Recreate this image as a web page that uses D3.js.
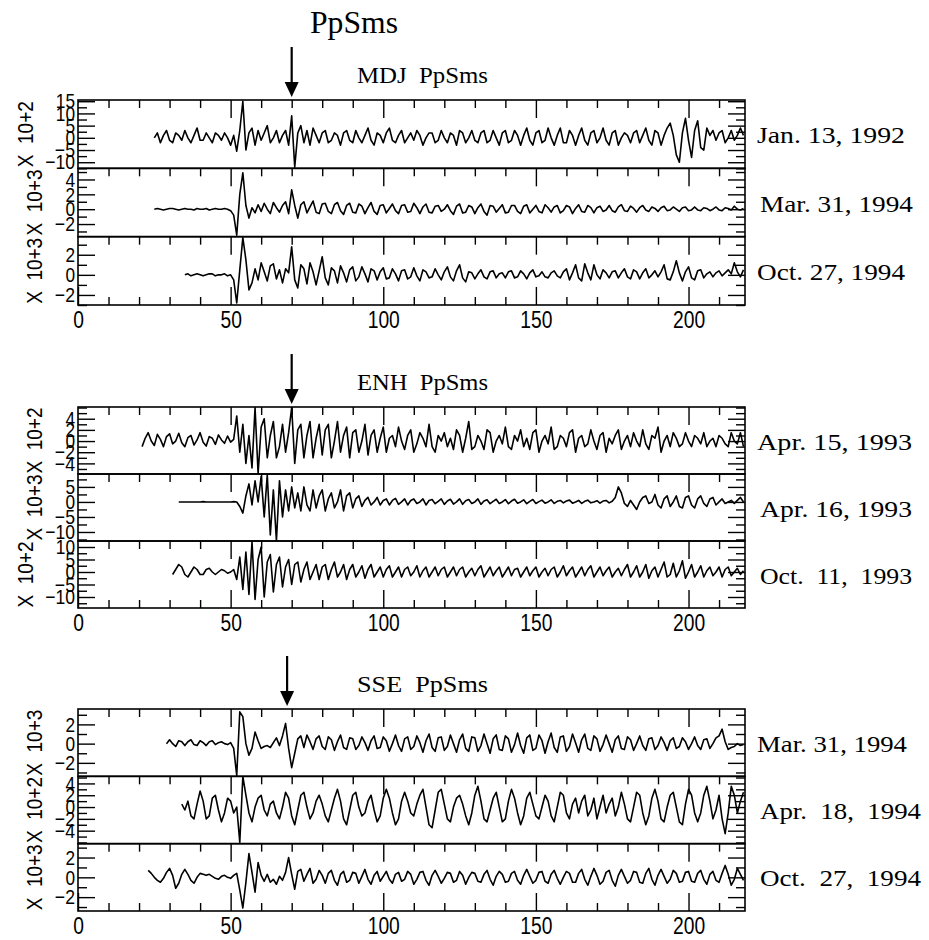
<!DOCTYPE html>
<html>
<head>
<meta charset="utf-8">
<script src="https://cdn.jsdelivr.net/npm/d3@7"></script>
<style>
    body { margin: 0; background: #fff; }
    .sans { font-family: 'Liberation Sans', Arial, sans-serif; }
    .serif { font-family: 'Liberation Serif', 'DejaVu Serif', serif; }
</style>
</head>
<body>
<div id="chart"></div>
<script>
// ---- data (1 sample per second) ----
const mainTitle = 'PpSms';
const stations = ['MDJ', 'ENH', 'SSE'];
const arrowTimes = [70, 70, 68.5];
const timeTicks = [0, 50, 100, 150, 200];
const timeDomain = [0, 218.5];

const mdjDates = ['Jan. 13, 1992', 'Mar. 31, 1994', 'Oct. 27, 1994'];
const enhDates = ['Apr. 15, 1993', 'Apr. 16, 1993', 'Oct.  11,  1993'];
const sseDates = ['Mar. 31, 1994', 'Apr.  18,  1994', 'Oct.  27,  1994'];

const mdjExponents = ['X  10+2', 'X  10+3', 'X  10+3'];
const enhExponents = ['X  10+2', 'X  10+3', 'X  10+2'];
const sseExponents = ['X  10+3', 'X  10+2', 'X  10+3'];

const mdjRanges = [[-12.5, 15.5], [-3.7, 5.5], [-3, 3.8]];
const enhRanges = [[-5.9, 6.1], [-13, 9.3], [-14.4, 12.4]];
const sseRanges = [[-3.4, 3.6], [-6.2, 5.2], [-3.4, 3.4]];

const mdjTicks = [[-10, -5, 0, 5, 10, 15], [-2, 0, 2, 4], [-2, 0, 2]];
const enhTicks = [[-4, -2, 0, 2, 4], [-10, -5, 0, 5], [-10, -5, 0, 5, 10]];
const sseTicks = [[-2, 0, 2], [-4, -2, 0, 2, 4], [-2, 0, 2]];

const mdjStarts = [25, 25, 35];
const enhStarts = [21, 33, 31];
const sseStarts = [29, 34, 23];

const mdjJan1992 = [
    0, 2, -2, 1, 3, -1, -2, 2, 1, -1, 3, 0, -2, 1, 4, -1, -1, 2, 0, -2, 2, 1, -1, 2, 0, -3, 1,
    -5.5, 3, 15, -5, 2, 4, -3, 3, -1,
    2, 5, -2, 0, 3, -2, 1, 3, -3,
    9, -12, 2, 5, -2, 3, -3, 4, 1, -2, 2,
    3, -2, -1, 2, 1, -3, 2, 3, -1, -2, 3, 0, -2, 1, 4, -1, -3, 2, 1, -2,
    2, 4, -1, -2, 1, 3, -2, 0, 2, -1, 3, 1, -3, 0, 2, 2, -2, -1, 3, 0,
    -2, 2, 1, -3, 3, 2, -2, 0, 3, -1, -2, 2, 3, -2, -1, 3, 0, -3, 2, 3,
    -2, -1, 3, 1, -3, 1, 4, -1, -3, 2, 3, -2, -1, 4, 0, -3, 1, 4, -2, -2,
    3, 1, -3, 1, 4, -1, -3, 2, 3, -2, 0, 4, -1, -3, 2, 3, -3, 0, 2, 1,
    -2, 2, 3, -2, 1, 4, -1, -3, 3, 2, -3, 1, 4,
    6, 1, -7, -10, 2, 8, -1, -8, 3, 7, -4, -5, 4, 1,
    3, -1, 2, 3, -2, 0, 3, -1, 1, 4, 1
];
const mdjMar1994 = [
    0, 0.1, 0, -0.1, 0, 0.1, 0.1, 0, -0.1, 0, 0.1, 0, 0, -0.1, 0.1, 0, 0, 0.1, -0.1, 0, 0.1, 0, 0, 0.1, 0, -0.2,
    -0.8, -3.5, 2, 4.9, 0.5, -1.2, 0.2, -0.5, 0.6, -0.3,
    0.8, 0, -0.6, 0.9, 0.2, -0.4, 0.5, 1, -0.6,
    2.6, 0.5, -1.2, 0.6, 1, -0.5, 0.3, 1.1, -0.4, -0.6, 0.7,
    0.8, -0.3, -0.6, 0.6, 0.9, -0.2, -0.7, 0.5, 0.8, -0.4, -0.5, 0.7, 0.4, -0.6, 0.2, 0.9, -0.3, -0.7, 0.5, 0.6,
    -0.5, 0.1, 0.7, -0.2, -0.6, 0.5, 0.6, -0.4, -0.3, 0.8, 0.2, -0.6, 0.3, 0.7, -0.4, -0.5, 0.4, 0.5, -0.3, 0,
    0.6, -0.2, -0.7, 0.4, 0.7, -0.5, -0.4, 0.5, 0.3, -0.6, 0.2, 0.7, -0.3, -0.8, 0.5, 0.4, -0.4, 0.1, 0.6, -0.5,
    -0.4, 0.5, 0.5, -0.3, -0.6, 0.4, 0.6, -0.5, 0, 0.5, -0.3, -0.5, 0.6, 0.2, -0.4, 0.3, 0.5, -0.5, -0.2, 0.5,
    0.3, -0.6, 0.1, 0.6, -0.3, -0.4, 0.5, 0.2, -0.5, 0.2, 0.4, -0.3, -0.1, 0.5, -0.2, -0.4, 0.3, 0.6, -0.2, -0.3,
    0.4, 0.1, -0.4, 0.2, 0.5, -0.1, -0.3, 0.3, 0.1, -0.3, 0.2, 0.4, -0.2, -0.1, 0.3, 0, -0.3, 0.2, 0.3, -0.2,
    -0.1, 0.3, -0.1, -0.2, 0.2, 0.1, -0.2, 0, 0.3, -0.1, -0.2, 0.2, 0.1, -0.1, 0.4, 0, -0.1, 0.1
];
const mdjOct1994 = [
    0, 0.1, -0.1, 0, 0.1, 0, -0.1, 0, 0.1, 0.1, -0.1, 0, 0, 0.1, -0.1, 0,
    -0.5, -2.8, 0.5, 3.7, 1.5, -1.5, -0.8, 0.6, -0.5, 1.2,
    0.3, -0.6, 0.9, 1.1, -0.4, 0.5, -0.8, 0.6, 0.2,
    2.8, -0.5, -1.3, 1, 0.6, -0.9, 1.2, 0.3, -1, 0.4, 1.8,
    -0.3, -1, 0.7, 0.4, -0.8, 0.9, 0.2, -0.7, 0.5, 0.8, -0.6, -0.2, 0.8, 0.1, -0.7, 0.6, 0.4, -0.5, 0.3, 0.7,
    -0.4, -0.3, 0.6, 0.1, -0.6, 0.4, 0.5, -0.4, -0.2, 0.7, -0.1, -0.6, 0.5, 0.3, -0.3, -0.2, 0.6, 0, -0.5, 0.3,
    0.8, -0.2, -0.6, 0.4, 1, -0.3, -0.7, 0.3, 0.2, -0.4, 0.1, 0.5, -0.2, -0.4, 0.3, 0.4, -0.3, 0.1, 0.2, -0.3,
    0.3, 0.4, -0.3, -0.2, 0.4, 0.1, -0.4, 0.2, 0.5, -0.2, -0.1, 0.3, -0.2, -0.3, 0.2, 0.4, -0.1, -0.3, 0.3, 0.6,
    -0.5, 0.2, 1, -0.3, -0.6, 1.1, 0.2, -0.5, 1, 0, -0.4, 0.5, 0.2, -0.3, 0.3, 0.4, -0.3, 0.2, 0.6, -0.2,
    -0.4, 0.5, 0.3, -0.4, 0.2, 0.6, -0.3, 0, 0.4, -0.2, 0.3, 1, -0.4, -0.5, 0.3, 1.4, 0.2, -0.6, 0.3, 0.8,
    -0.3, -0.5, 0.4, 0.5, -0.3, 0.1, 0.3, -0.2, 0.2, 0.4, -0.1, 0.2, 0.5, 0.1, 1.2, 0.3, -0.2, 0.5
];

const enhApr151993 = [
    -1, 0.5, 1.5, 0, -0.8, 1.2, 0.3, -1, 0.8, 1.3, -0.5, 0, 1.4, -0.3, -1, 0.6, 1, -0.7, 0.2, 1.5, -0.2, -0.9, 0.8, 0.5, -0.6, 1.1, 0.2, -0.4, 0.9, -0.2, 0.3,
    4.5, -2, 3, -4, 1, -4.8, 6, -5.8, 2.5, 4, -3, 1, 3.5, -3, -1, 3, -2, 1.5,
    6, -4, 2, 3, -3, 1, 3.5, -3, 0.5, 3, -2.5,
    2, 3, -3, 0, 3.5, -2, 1, 2.5, -3, 1.5, 2, -2, 0, 3, -2.5, 1, 2, -2, 0.5, 2.5,
    -2, 0.5, 1, -1, 2.5, 0, -1.5, 1, 2, -2, -0.5, 1.5, 0.5, -1, 3, -1, -2, 1, 0, 1.5,
    -1, 0.5, -1.5, 2, 1, -2, 0.5, 3.5, -1.5, -1, 1, 0, -1.5, 2, 1.5, -2, 0, 1, -0.5, 2.5,
    -1, -1.5, 1, 0, 2, -1, 0.5, -1.5, 1.5, 2, -2, 0, 1, -0.5, 2.5, -1.5, -1, 1, 0.5, -1,
    1.5, 2, -2, 0.5, 1, -1, -0.5, 2, 0, -1.5, 1, 1.5, -2, 0.5, -0.5, 1, 2, -1.5, 0, 1,
    -1, 1.5, 0, -1, 2, -0.5, -1.5, 1, 0.5, 2.5, -2, 0, 1, -1, 1.5, 0.5, -1, -0.5, 1.5, 0,
    -1, 1, 0.5, -0.5, 1.5, -1, 0, 0.5, -1, 1, 0.5, -0.5, -1, 1.5, 0, -0.5, 1.5, -1
];
const enhApr161993 = [
    0, 0, 0, 0, 0, 0, 0, 0, 0.1, 0, 0, 0, 0, 0, 0, 0, 0, 0, 0.1, 0,
    -1.5, -3.7, 2, 6, -1, 7, 0, 8.5, -5, 9, -11, 4, -13, 7, -5, 4, -3, 5,
    -2, 3, -3, 5, -1, -3, 4, -2, 2, 4,
    -3, 1, 3, -2, 0, 4, -3, 2, 3, -2, 1, 2, -1.5, 0.5, 1.5, -1, 0, 1.5, -1, 0.5,
    1, -1, 0.5, 1.2, -0.8, 0, 1, -1, 0.5, 1, -0.5, 0, 1, -1, 0.5, 0.8, -0.6, 0.2, 1, -0.8,
    0.3, 0.9, -0.7, 0, 1, -0.8, 0.4, 0.8, -0.5, 0, 1, -0.8, 0.3, 0.7, -0.6, 0.2, 0.9, -0.5, 0, 0.8,
    -0.6, 0.3, 0.9, -0.4, 0, 0.7, -0.6, 0.2, 0.8, -0.5, 0.1, 0.6, -0.4, 0, 0.7, -0.5, 0.2, 0.5, -0.3, 0.3,
    0.6, -0.4, 0, 0.5, -0.5, 0.2, 0.6, -0.3, 0, 0.4, -0.4, 0.3, 0.5, -0.3, 0.2, 1.5,
    5, 3, -0.5, -1.5,
    0.5, -1, -2.5, 0, 1.5, 2, -0.5, 0, 2.5, -1, -2, 1, 2, -1.5, 0, 2, -1.5, -2, 1.5, 2,
    -1, -2, 1, 2, -0.5, -1.5, 1, 1.5, -1, 0, 1, -0.5, 0, 0.5, -0.5, 0.5, 1.5, 0
];
const enhOct111993 = [
    -1, 1, 3, 2, -1, -2, 0, 2, 1, -1, -1, 1, 1.5, 0, -1, 0, 1, 0.5, -0.5, 0, 1,
    -3, 6, -7, 8, -9, 12, -11, 5, 10, -10, 4, 7, -8, 3, 6, -6, 2, 5, -5, 3, 4,
    -4, 1, 4, -3, 0, 3, -3, 2,
    3, -3, 1, 4, -2, 0, 3, -3, 1, 3, -2, 0, 2.5, -2.5, 1, 3, -2, 0, 2, -2,
    1, 2.5, -2, 0, 2, -2, 1, 2, -1.5, 0, 2.5, -2, 0.5, 2, -2, 0, 2, -1.5, 1, 2,
    -2, 0, 2, -1.5, 1, 2, -2, 0, 1.5, -1.5, 1, 2.5, -2, 0, 2, -1.5, 0.5, 2, -2, 0,
    2, -1.5, 1, 1.5, -2, 0, 2, -1.5, 0.5, 2, -2, 0, 1.5, -1.5, 1, 2, -2, 0, 2.5, -1.5,
    0.5, 2, -2, 0, 2, -1.5, 1, 2.5, -2, 0, 2, -1.5, 0.5, 2, -2, 0, 1.5, -1.5, 1, 3,
    -2, 0, 2.5, -2, 0, 3, -2.5, 0.5, 2, -2, 1, 4, -2, -1, 3.5, -2, 0.5, 4.5, -2.5, 0,
    3, -2, 0, 2.5, -2, 0.5, 2, -1.5, 0, 2, -2, 1, 2, -1.5, 0, 1.5, -1, 0.5
];

const sseMar1994 = [
    0, 0.4, 0, -0.3, 0.3, 0.2, -0.2, 0.2, 0.4, -0.1, -0.2, 0.3, 0.1, -0.2, 0.2, 0.3, -0.1, 0.1, 0.2, 0, -0.1, 0.1, -0.5,
    -3.3, 3.3, 2.8, 0, -1.2, -0.5, 1.2, 0.3, -0.5, -0.3, -0.2, -0.4, 0.1, 0.6, -0.2,
    0.8, 2.1, -0.5, -2.5, -1, 0.5,
    0.8, -0.4, 0.9, 0.2, -0.6, 0.5, 0.8, -0.3,
    -0.6, 0.7, 0.4, -0.7, 0.2, 0.9, -0.4, -0.6, 0.6, 0.5, -0.6, -0.2, 0.7, 0.1, -0.7, 0.3, 0.8, -0.5, -0.4, 0.7,
    0.3, -0.8, 0, 0.9, -0.2, -0.8, 0.5, 0.7, -0.6, -0.3, 0.8, 0.1, -0.9, 0.3, 1, -0.4, -0.8, 0.6, 0.7, -0.7,
    -0.3, 0.9, 0, -0.9, 0.4, 1, -0.5, -0.8, 0.7, 0.6, -0.8, -0.2, 1, 0, -1, 0.5, 0.9, -0.6, -0.7, 0.8,
    0.5, -0.9, -0.1, 1.1, -0.2, -1, 0.6, 0.9, -0.7, -0.5, 0.9, 0.3, -1, 0.2, 1.1, -0.4, -0.9, 0.7, 0.8, -0.8,
    -0.3, 1, 0.1, -0.9, 0.4, 1, -0.5, -0.7, 0.8, 0.5, -0.8, -0.1, 0.9, 0, -0.9, 0.4, 0.8, -0.5, -0.6, 0.7,
    0.4, -0.7, 0, 0.8, -0.2, -0.7, 0.5, 0.6, -0.6, -0.2, 0.7, 0.1, -0.7, 0.3, 0.6, -0.5, -0.3, 0.6, 0.2, -0.6,
    0, 0.7, -0.2, -0.6, 0.4, 0.5, -0.5, 0, 0.6, 0.8, 1.5, 0.2, -0.6, -0.4, -0.3, 0, -0.2, -0.1
];
const sseApr1994 = [
    0.5, -0.5, 1, -1.5, -2, 0.5, 2.7, 1, -2, -1.5, 1.5, 2, -0.5, -2.5, -1, 1.5, 1, -1, 0,
    -6, 5.2, 2, -1, -2.5, 0,
    1.5, 2, -0.5, -1.5, 0.5, 1, -1, -2, 0, 2.5, 1.5, -1.5, -3, -0.5, 2, 2.5, 0, -2, -1, 1, 2, 0.5,
    -1.5, -2.5, -0.5, 1.5, 3, 1, -2, -3, -0.5, 2, 2.5, 0, -1.5, -1, 1, 2, -0.5, -2.5, -1.5, 1.5,
    3, 1.5, -1, -3, -2, 1, 2.5, 1, -1, -1.5, 0.5, 2, 3, 0, -3, -3.5, -0.5, 2.5, 3, 0.5,
    -2, -2.5, 0, 1.5, 2, 0.5, -1.5, -3, -1, 2, 3.5, 1, -2, -2.5, -0.5, 1.5, 2.5, 0, -2.5, -2,
    1, 3, 1.5, -1, -3, -1.5, 1.5, 2.5, 0.5, -1.5, -2, 0, 2, 1, -1.5, -2.5, 0, 2.5, 2, -1,
    -2, 0.5, 1.5, -1, 1, 2, -1.5, -0.5, 1.5, -2, 0, 2, -1, 0.5, 1.5, -1.5, 0, 2.5, 0.5, -2,
    -2.5, 0, 2.5, 2, -1, -3, -1.5, 1.5, 3, 1, -2, -2.5, 0, 2, 2.5, 0, -2.5, -3, 0.5, 3,
    2, -1, -2.5, -1, 2, 3.5, 1, -2, -0.5, 2, -2, -4.5, -1, 3.5, 2, -1, 1, 2.5
];
const sseOct1994 = [
    0.7, 0.4, 0, -0.3, -0.5, -0.1, 0.5, 0.9, 0.2, -1.1, -0.6, 0.3, 0.8, 0.3, -0.3, -0.6, 0, 0.4, 0.3, 0.2, 0.3, 0.1, -0.1, -0.2, 0.1, 0.2, 0, -0.1, 0.2, 0.4,
    -1.3, -3.1, -0.5, 2.4, 0.5, -1.5, 1.5, 0.2,
    -0.4, 0.3, -0.5, -0.2, -0.7, 0.1, -0.3, 0.5,
    2, 0.3, -1.2, 0.6, 0.8, -0.4, 0.3, 0.9, -0.6, -0.2, 0.7, 0.2,
    -0.6, 0.4, 0.7, -0.3, -0.8, 0.3, 0.6, -0.5, -0.3, 0.5, 0.4, -0.6, 0.1, 0.8, -0.2, -0.7, 0.2, 0.6, -0.4, 0.1,
    0.6, -0.2, -0.6, 0.3, 0.5, -0.4, -0.2, 0.6, 0.3, -0.7, -0.2, 0.5, 0.6, -0.3, -0.8, 0.2, 0.7, 0.1, -0.6, -0.1,
    0.5, 0.4, -0.5, -0.3, 0.6, 0.2, -0.7, 0, 0.5, 0.4, -0.4, -0.5, 0.3, 0.7, -0.2, -0.8, 0.1, 0.6, 0.3, -0.5,
    -0.4, 0.4, 0.6, -0.3, -0.7, 0.2, 0.8, 0.1, -0.6, -0.3, 0.5, 0.6, -0.4, -0.6, 0.3, 0.7, -0.1, -0.7, 0, 0.6,
    0.4, -0.5, -0.5, 0.4, 0.8, -0.2, -0.8, 0.1, 0.9, 0.2, -0.7, -0.4, 0.5, 0.7, -0.3, -0.9, 0.2, 0.8, 0.1, -0.6,
    -0.3, 0.6, 0.5, -0.5, -0.6, 0.4, 0.9, -0.2, -0.8, 0.2, 0.8, 0.1, -0.6, -0.2, 0.7, 0.4, -0.5, -0.4, 0.5, 0.6,
    -0.4, -0.5, 0.4, 0.7, -0.2, -0.7, 0.3, 0.6, -0.3, -0.5, 0.4, 1.2, 0.3, -0.8, -0.2, 0.9, 0.3, -0.3
];

const mdjTraces = [mdjJan1992, mdjMar1994, mdjOct1994];
const enhTraces = [enhApr151993, enhApr161993, enhOct111993];
const sseTraces = [sseMar1994, sseApr1994, sseOct1994];

// ---- layout ----
const W = 929, H = 940;
const plotLeft = 78, plotRight = 745;
const panelTops = [100, 407, 709];
const panelHeights = [205, 201, 202];
const expLabelX = [[33, 42, 42], [42, 42, 33], [42, 42, 42]];
const dateX = [[757, 760, 757], [757, 760, 760], [757, 760, 760]];
const dateWidths = [[148, 153, 148], [155, 152, 152], [150, 161, 161]];

const panels = [
    {station: stations[0], arrow: arrowTimes[0], traces: mdjTraces, starts: mdjStarts, dates: mdjDates,
        exps: mdjExponents, ranges: mdjRanges, ticks: mdjTicks},
    {station: stations[1], arrow: arrowTimes[1], traces: enhTraces, starts: enhStarts, dates: enhDates,
        exps: enhExponents, ranges: enhRanges, ticks: enhTicks},
    {station: stations[2], arrow: arrowTimes[2], traces: sseTraces, starts: sseStarts, dates: sseDates,
        exps: sseExponents, ranges: sseRanges, ticks: sseTicks}
];

const x = d3.scaleLinear().domain(timeDomain).range([plotLeft, plotRight]);

const svg = d3.select('#chart').append('svg')
    .attr('width', W)
    .attr('height', H);

svg.append('text')
    .attr('class', 'serif')
    .attr('x', 310).attr('y', 33)
    .attr('textLength', 88).attr('lengthAdjust', 'spacingAndGlyphs')
    .style('font-size', '31px')
    .text(mainTitle);

// the figure uses a condensed sans face; squeeze Liberation Sans to match
const narrowWidth = (d, digit) => String(Math.abs(d)).length * digit + (d < 0 ? digit * 1.1 : 0);

function styleAxis(g, width) {
    g.select('.domain').remove();
    g.selectAll('.tick line').attr('stroke', '#000').attr('stroke-width', width);
    g.selectAll('.tick text').attr('fill', '#000');
}

function minorValues(domain, step, major) {
    const start = Math.ceil(domain[0] / step) * step;
    return d3.range(start, domain[1] + 1e-9, step)
        .filter(v => !major.some(m => Math.abs(m - v) < 1e-6));
}

const xMajor = timeTicks.filter(t => t > 0);
const xMinor = d3.range(10, timeDomain[1], 10).filter(t => t % 50 !== 0);

panels.forEach((p, pi) => {
    const top = panelTops[pi];
    const sub = panelHeights[pi] / 3;

    svg.append('text')
        .attr('class', 'serif')
        .attr('x', 357).attr('y', top - 17)
        .attr('textLength', 131).attr('lengthAdjust', 'spacingAndGlyphs')
        .style('font-size', '24px')
        .style('white-space', 'pre')
        .text(`${p.station}  PpSms`);

    // arrow marking the PpSms arrival
    const ax = x(p.arrow);
    svg.append('line')
        .attr('x1', ax).attr('x2', ax)
        .attr('y1', top - 53).attr('y2', top - 16)
        .attr('stroke', '#000').attr('stroke-width', 2.2);
    svg.append('path')
        .attr('d', `M${ax - 7},${top - 18}L${ax + 7},${top - 18}L${ax},${top - 3}Z`)
        .attr('fill', '#000');

    p.traces.forEach((values, i) => {
        const y0 = top + i * sub, y1 = y0 + sub;
        const y = d3.scaleLinear().domain(p.ranges[i]).range([y1, y0]);
        const major = p.ticks[i];
        const minor = minorValues(p.ranges[i], (major[1] - major[0]) / 2, major);
        const g = svg.append('g');

        const clipId = `clip-${pi}-${i}`;
        g.append('clipPath').attr('id', clipId)
            .append('rect')
            .attr('x', plotLeft).attr('y', y0)
            .attr('width', plotRight - plotLeft).attr('height', sub);

        // left axis
        g.append('g').attr('transform', `translate(${plotLeft},0)`)
            .call(d3.axisLeft(y).tickValues(minor).tickFormat('').tickSize(-9))
            .call(a => styleAxis(a, 1.4));
        g.append('g').attr('class', 'sans')
            .attr('transform', `translate(${plotLeft},0)`)
            .call(d3.axisLeft(y).tickValues(major).tickFormat(d3.format('d')).tickSize(-17).tickPadding(3))
            .call(a => styleAxis(a, 1.4))
            .call(a => a.selectAll('text')
                .attr('font-family', null)
                .style('font-size', '21px')
                .attr('textLength', d => narrowWidth(d, 9.6))
                .attr('lengthAdjust', 'spacingAndGlyphs'));

        // right axis
        g.append('g').attr('transform', `translate(${plotRight},0)`)
            .call(d3.axisRight(y).tickValues(minor).tickFormat('').tickSize(-9))
            .call(a => styleAxis(a, 1.4));
        g.append('g').attr('transform', `translate(${plotRight},0)`)
            .call(d3.axisRight(y).tickValues(major).tickFormat('').tickSize(-17))
            .call(a => styleAxis(a, 1.4));

        // time ticks along the top edge
        g.append('g').attr('transform', `translate(0,${y0})`)
            .call(d3.axisTop(x).tickValues(xMinor).tickFormat('').tickSize(-8))
            .call(a => styleAxis(a, 1.4));
        g.append('g').attr('transform', `translate(0,${y0})`)
            .call(d3.axisTop(x).tickValues(xMajor).tickFormat('').tickSize(-18))
            .call(a => styleAxis(a, 1.4));

        if (i === 2) {
            g.append('g').attr('transform', `translate(0,${y1})`)
                .call(d3.axisBottom(x).tickValues(xMinor).tickFormat('').tickSize(-8))
                .call(a => styleAxis(a, 1.4));
            g.append('g').attr('class', 'sans')
                .attr('transform', `translate(0,${y1})`)
                .call(d3.axisBottom(x).tickValues(timeTicks).tickFormat(d3.format('d')).tickSize(-18).tickPadding(7))
                .call(a => styleAxis(a, 1.4))
                .call(a => a.selectAll('text')
                    .attr('font-family', null)
                    .style('font-size', '23px')
                    .attr('textLength', d => narrowWidth(d, 10.7))
                    .attr('lengthAdjust', 'spacingAndGlyphs'));
        }

        // frame
        g.append('rect')
            .attr('x', plotLeft).attr('y', y0)
            .attr('width', plotRight - plotLeft).attr('height', sub)
            .attr('fill', 'none').attr('stroke', '#000').attr('stroke-width', 1.6);

        // trace
        const pts = values.map((v, k) => ({t: p.starts[i] + k, v}));
        const line = d3.line()
            .x(d => x(d.t))
            .y(d => y(d.v));
        g.append('path')
            .attr('clip-path', `url(#${clipId})`)
            .attr('d', line(pts))
            .attr('fill', 'none')
            .attr('stroke', '#000')
            .attr('stroke-width', 1.6)
            .attr('stroke-linejoin', 'round');

        // amplitude multiplier, rotated
        const mid = (y0 + y1) / 2;
        svg.append('text')
            .attr('class', 'sans')
            .attr('transform', `translate(${expLabelX[pi][i]},${mid}) rotate(-90)`)
            .attr('text-anchor', 'middle')
            .attr('textLength', 66).attr('lengthAdjust', 'spacingAndGlyphs')
            .style('font-size', '22px')
            .style('white-space', 'pre')
            .text(p.exps[i]);

        // event date
        svg.append('text')
            .attr('class', 'serif')
            .attr('x', dateX[pi][i]).attr('y', mid + 9)
            .attr('textLength', dateWidths[pi][i]).attr('lengthAdjust', 'spacingAndGlyphs')
            .style('font-size', '23px')
            .style('white-space', 'pre')
            .text(p.dates[i]);
    });
});
</script>
</body>
</html>
